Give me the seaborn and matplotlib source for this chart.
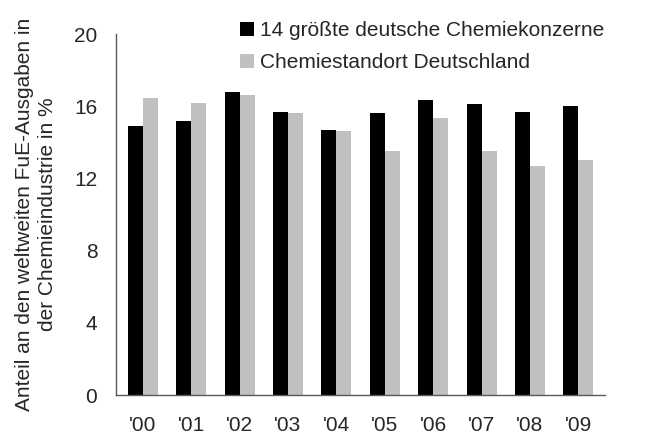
import matplotlib
matplotlib.use("Agg")
import matplotlib.pyplot as plt
import seaborn as sns
import pandas as pd

years = ["'00", "'01", "'02", "'03", "'04", "'05", "'06", "'07", "'08", "'09"]
konzerne = [14.9, 15.2, 16.8, 15.7, 14.7, 15.6, 16.35, 16.1, 15.7, 16.0]
standort = [16.45, 16.2, 16.6, 15.6, 14.6, 13.5, 15.35, 13.5, 12.7, 13.0]
series_names = ["14 größte deutsche Chemiekonzerne", "Chemiestandort Deutschland"]
colors = ["#000000", "#c0c0c0"]
yticks = [0, 4, 8, 12, 16, 20]

df = pd.DataFrame({
    "Jahr": years * 2,
    "Wert": konzerne + standort,
    "Serie": [series_names[0]] * len(years) + [series_names[1]] * len(years),
})

sns.set_style("white")
plt.rcParams["font.family"] = ["Liberation Sans", "DejaVu Sans"]
FS = 15

fig = plt.figure(figsize=(6.45, 4.36), dpi=100)
ax = fig.add_axes([0.18, 0.094, 0.758, 0.828])
sns.barplot(data=df, x="Jahr", y="Wert", hue="Serie", palette=colors,
            width=0.62, saturation=1, ax=ax, edgecolor="none")

ax.set_ylim(0, 20)
ax.set_yticks(yticks)
ax.set_yticklabels([str(t) for t in yticks], fontsize=FS)
ax.tick_params(axis="x", labelsize=FS, length=0, pad=15)
ax.tick_params(axis="y", length=0, pad=13.5)
ax.set_xlim(-0.55, 9.55)
ax.set_xlabel("")
ax.set_ylabel("Anteil an den weltweiten FuE-Ausgaben in\nder Chemieindustrie in %",
              fontsize=FS, labelpad=12, linespacing=1.3)
for s in ["top", "right"]:
    ax.spines[s].set_visible(False)
for s in ["left", "bottom"]:
    ax.spines[s].set_color("#595959")
    ax.spines[s].set_linewidth(1.0)

leg = ax.legend(loc="upper left", bbox_to_anchor=(0.372, 1 - 21 / 436),
                bbox_transform=fig.transFigure, frameon=False,
                fontsize=FS, handlelength=0.67, handleheight=0.67,
                handletextpad=0.3, labelspacing=0.62, borderaxespad=0, borderpad=0)

fig.savefig("out.png", dpi=100)
